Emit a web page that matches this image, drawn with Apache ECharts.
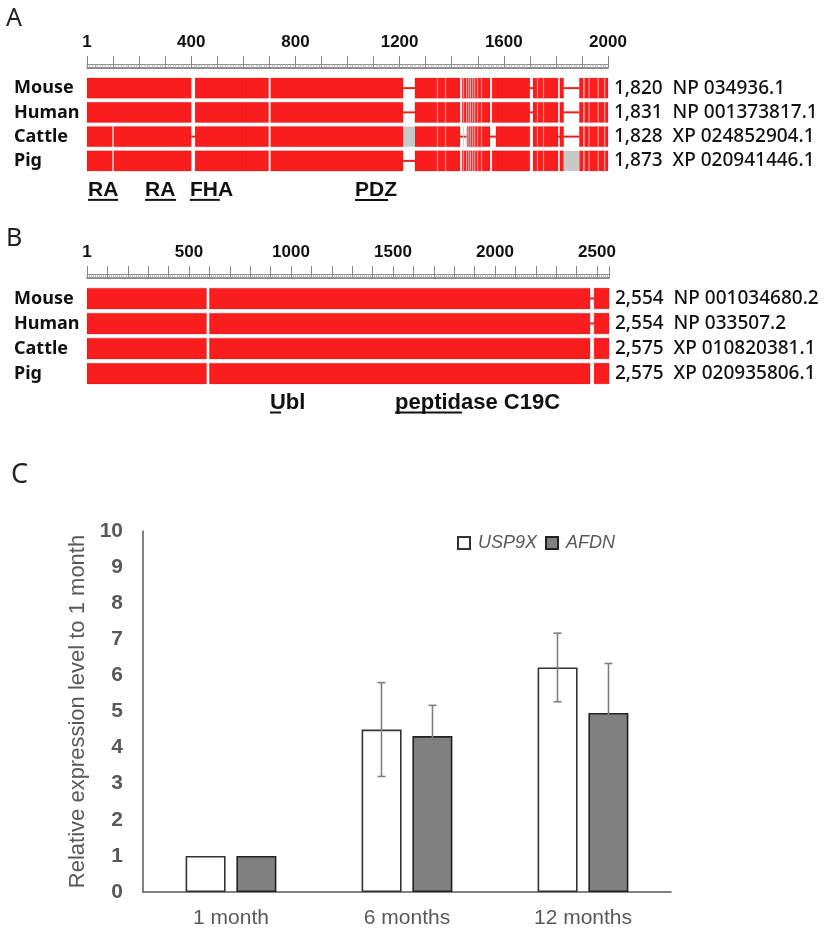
<!DOCTYPE html>
<html>
<head>
<meta charset="utf-8">
<script src="https://cdn.jsdelivr.net/npm/echarts@6/dist/echarts.min.js"></script>
<style>html,body{margin:0;padding:0;background:#fff}#c{width:827px;height:930px}</style>
</head>
<body>
<div id="c"></div>
<script>
// ---------- Panel A (afadin alignment) ----------
const speciesA = ['Mouse', 'Human', 'Cattle', 'Pig'];
const accessionA = ['1,820  NP 034936.1', '1,831  NP 001373817.1', '1,828  XP 024852904.1', '1,873  XP 020941446.1'];
const rulerLabelsA = [1, 400, 800, 1200, 1600, 2000];
const lengthA = 2000;
// red aligned blocks per species [start, end]
const blocksA = [
  [[0,400],[415,697],[705,1213],[1259,1432],[1440,1547],[1555,1700],[1712,1808],[1815,1830],[1890,1905],[1910,2000]],
  [[0,400],[415,697],[705,1213],[1259,1432],[1440,1547],[1555,1700],[1712,1808],[1815,1830],[1890,1905],[1910,2000]],
  [[0,97],[103,400],[415,697],[705,1213],[1259,1432],[1460,1547],[1570,1700],[1712,1808],[1815,1830],[1890,1905],[1910,2000]],
  [[0,97],[103,400],[415,697],[705,1213],[1259,1432],[1440,1547],[1555,1700],[1712,1808],[1815,1830],[1890,1905],[1910,2000]]
];
// gap connectors per species
const linksA = [
  [[1213,1259],[1700,1712],[1830,1890]],
  [[1213,1259],[1700,1712],[1830,1890]],
  [[400,415],[1432,1460],[1547,1570],[1808,1815],[1830,1890]],
  [[1213,1259]]
];
// grey (unaligned) blocks per species
const greyA = [[], [], [[1213,1259]], [[1830,1890]]];
// low-conservation columns (thin light lines), all species
const stripesA = [1343, 1374, 1443, 1455, 1463, 1470, 1478, 1486, 1497, 1512, 1727, 1750, 1925, 1960, 1985];
const faintA = [607, 1590];
// domains
const domainsA = ['RA', 'RA', 'FHA', 'PDZ'];
const domainStartA = [4, 223, 395, 1029];
const domainUlineEndA = [119, 342, 510, 1156];

// ---------- Panel B (USP9X alignment) ----------
const speciesB = ['Mouse', 'Human', 'Cattle', 'Pig'];
const accessionB = ['2,554  NP 001034680.2', '2,554  NP 033507.2', '2,575  XP 010820381.1', '2,575  XP 020935806.1'];
const rulerLabelsB = [1, 500, 1000, 1500, 2000, 2500];
const lengthB = 2559;
const blocksB = [
  [[0,586],[600,2466],[2486,2559]],
  [[0,586],[600,2466],[2486,2559]],
  [[0,586],[600,2466],[2486,2559]],
  [[0,586],[600,2466],[2486,2559]]
];
const linksB = [[[2466,2486]], [[2466,2486]], [], []];
const domainsB = ['Ubl', 'peptidase C19C'];
const domainStartB = [897, 1510];
const domainUlineEndB = [951, 1838];

// ---------- Panel C (qPCR) ----------
const months = ['1 month', '6 months', '12 months'];
const usp9x = [1, 4.5, 6.22];
const usp9xErr = [0, 1.3, 0.95];
const afdn = [1, 4.32, 4.96];
const afdnErr = [0, 0.85, 1.37];

// ---------- build ----------
const RED = '#fa1d1d', LINK = '#e32222', GREY = '#c8c8c8';
function alignData(blocks, links, grey, stripes, faint) {
  const d = [];
  blocks.forEach((row, r) => row.forEach(b => d.push([b[0], b[1], r, 0])));
  grey.forEach((row, r) => row.forEach(b => d.push([b[0], b[1], r, 1])));
  links.forEach((row, r) => row.forEach(b => d.push([b[0], b[1], r, 2])));
  blocks.forEach((row, r) => (stripes || []).forEach(p => d.push([p, p, r, 3])));
  blocks.forEach((row, r) => (faint || []).forEach(p => d.push([p, p, r, 4])));
  return d;
}
function alignItem(params, api) {
  const s = api.value(0), e = api.value(1), row = api.value(2), kind = api.value(3);
  const a = api.coord([s, row]), b = api.coord([e, row]);
  const band = api.size([0, 1])[1];
  const h = band * 0.83;
  if (kind === 0 || kind === 1) {
    return {type: 'rect', shape: {x: a[0], y: a[1] - h / 2, width: b[0] - a[0], height: h},
      style: {fill: kind === 0 ? RED : GREY, stroke: kind === 0 ? 'rgba(190,0,0,0.35)' : null, lineWidth: 0.6}};
  }
  if (kind === 2) {
    return {type: 'line', shape: {x1: a[0], y1: a[1], x2: b[0], y2: a[1]}, style: {stroke: LINK, lineWidth: 2}};
  }
  return {type: 'rect', shape: {x: a[0], y: a[1] - h / 2, width: 1.2, height: h},
    style: {fill: kind === 3 ? 'rgba(232,190,190,0.75)' : 'rgba(140,20,20,0.15)'}};
}
function domainData(starts, ends) { return starts.map((s, i) => [s, ends[i], 3, i]); }
function domainItem(names, dy, ul, fs) {
  return function (params, api) {
    const a = api.coord([api.value(0), api.value(2)]);
    const b = api.coord([api.value(1), api.value(2)]);
    return {type: 'group', children: [
      {type: 'text', style: {x: a[0], y: a[1] + dy, text: names[api.value(3)], fill: '#111',
        font: 'bold ' + fs + 'px "Liberation Sans", Arial, sans-serif', textAlign: 'left', textVerticalAlign: 'middle'}},
      {type: 'line', shape: {x1: a[0], y1: a[1] + ul, x2: b[0], y2: a[1] + ul}, style: {stroke: '#111', lineWidth: 2}}
    ]};
  };
}
function errData(vals, errs) { return vals.map((v, i) => [i, v, errs[i]]); }
function errItem(offset) {
  return function (params, api) {
    const e = api.value(2);
    if (!e) return null;
    const top = api.coord([api.value(0), api.value(1) + e]);
    const bot = api.coord([api.value(0), api.value(1) - e]);
    const x = top[0] + offset;
    const st = {stroke: '#808080', lineWidth: 1.6};
    return {type: 'group', children: [
      {type: 'line', shape: {x1: x, y1: top[1], x2: x, y2: bot[1]}, style: st},
      {type: 'line', shape: {x1: x - 4, y1: top[1], x2: x + 4, y2: top[1]}, style: st},
      {type: 'line', shape: {x1: x - 4, y1: bot[1], x2: x + 4, y2: bot[1]}, style: st}
    ]};
  };
}
function rulerAxes(gi, max, labels) {
  return [
    {gridIndex: gi, type: 'value', min: 0, max: max, interval: 100, position: 'top', offset: 8,
      axisLine: {show: true, lineStyle: {color: '#666', width: 1.5}},
      axisTick: {show: true, length: 12, lineStyle: {color: '#888', width: 1}},
      minorTick: {show: true, splitNumber: 10, length: 4, lineStyle: {color: '#aaa', width: 0.8}},
      splitLine: {show: false},
      axisLabel: {show: true, margin: 17, fontSize: 17, fontWeight: 'bold', color: '#111', fontFamily: '"Liberation Sans", Arial, sans-serif',
        formatter: v => { if (v === 0) return String(labels[0]); return labels.indexOf(v) >= 0 ? String(v) : ''; }}},
    {gridIndex: gi, type: 'value', min: 0, max: max, position: 'top', offset: 12,
      axisLine: {show: true, lineStyle: {color: '#888', width: 1}}, axisTick: {show: false},
      axisLabel: {show: false}, splitLine: {show: false}}
  ];
}
function speciesAxes(gi, names, acc) {
  const lab = {fontFamily: '"Noto Sans", sans-serif', color: '#111', interval: 0};
  return [
    {gridIndex: gi, type: 'category', data: names, inverse: true, axisLine: {show: false}, axisTick: {show: false},
      axisLabel: Object.assign({align: 'left', margin: 73, fontSize: 18, fontWeight: 'bold'}, lab)},
    {gridIndex: gi, type: 'category', data: acc, inverse: true, position: 'right', axisLine: {show: false}, axisTick: {show: false},
      axisLabel: Object.assign({align: 'left', margin: 6, fontSize: 19, fontWeight: 500, hideOverlap: false}, lab)}
  ];
}

const chart = echarts.init(document.getElementById('c'), null, {renderer: 'canvas'});
const gray = '#595959';
const xA = rulerAxes(0, lengthA, rulerLabelsA);
const xB = rulerAxes(1, lengthB, rulerLabelsB);
const option = {
  animation: false,
  backgroundColor: '#fff',
  title: [
    {text: 'A', left: 6, top: 6, padding: 0, textStyle: {fontSize: 25, fontWeight: 'normal', color: '#222', fontFamily: '"Noto Sans", sans-serif'}},
    {text: 'B', left: 6, top: 226, padding: 0, textStyle: {fontSize: 25, fontWeight: 'normal', color: '#222', fontFamily: '"Noto Sans", sans-serif'}},
    {text: 'C', left: 11, top: 462, padding: 0, textStyle: {fontSize: 27, fontWeight: 'normal', color: '#222', fontFamily: '"Noto Sans", sans-serif'}}
  ],
  legend: {
    data: ['USP9X', 'AFDN'], left: 457, top: 534, itemWidth: 12, itemHeight: 12, itemGap: 8, padding: 0,
    icon: 'rect',
    textStyle: {fontSize: 18, fontStyle: 'italic', color: gray, fontFamily: '"Liberation Sans", Arial, sans-serif', padding: [0, 0, 0, 3]}
  },
  grid: [
    {left: 87, top: 76, width: 521, height: 97},
    {left: 87, top: 286, width: 522, height: 100},
    {left: 143, top: 531, width: 528, height: 361}
  ],
  xAxis: [xA[0], xA[1], xB[0], xB[1],
    {gridIndex: 2, type: 'category', data: months,
      axisLine: {show: true, lineStyle: {color: gray, width: 1.5}}, axisTick: {show: false},
      axisLabel: {margin: 16, fontSize: 21, color: gray, interval: 0, fontFamily: '"Liberation Sans", Arial, sans-serif'}}
  ],
  yAxis: speciesAxes(0, speciesA, accessionA).concat(speciesAxes(1, speciesB, accessionB)).concat([
    {gridIndex: 2, type: 'value', min: 0, max: 10, interval: 1,
      name: 'Relative expression level to 1 month', nameLocation: 'middle', nameGap: 51, nameRotate: 90,
      nameTextStyle: {fontSize: 22, color: gray, fontFamily: '"Liberation Sans", Arial, sans-serif'},
      axisLine: {show: true, lineStyle: {color: gray, width: 1.5}}, axisTick: {show: false}, splitLine: {show: false},
      axisLabel: {margin: 20, fontSize: 21, fontWeight: 'bold', color: gray, fontFamily: '"Liberation Sans", Arial, sans-serif'}}
  ]),
  series: [
    {type: 'custom', name: 'alignA', xAxisIndex: 0, yAxisIndex: 0, renderItem: alignItem,
      encode: {x: [0, 1], y: 2}, data: alignData(blocksA, linksA, greyA, stripesA, faintA), silent: true, clip: false},
    {type: 'custom', name: 'domainsA', xAxisIndex: 0, yAxisIndex: 0, renderItem: domainItem(domainsA, 29, 39, 21),
      encode: {x: [0, 1], y: 2}, data: domainData(domainStartA, domainUlineEndA), silent: true, clip: false},
    {type: 'custom', name: 'alignB', xAxisIndex: 2, yAxisIndex: 2, renderItem: alignItem,
      encode: {x: [0, 1], y: 2}, data: alignData(blocksB, linksB, [[], [], [], []], [], []), silent: true, clip: false},
    {type: 'custom', name: 'domainsB', xAxisIndex: 2, yAxisIndex: 2, renderItem: domainItem(domainsB, 29, 39, 22),
      encode: {x: [0, 1], y: 2}, data: domainData(domainStartB, domainUlineEndB), silent: true, clip: false},
    {type: 'bar', name: 'USP9X', xAxisIndex: 4, yAxisIndex: 4, data: usp9x, barWidth: 40, barGap: '27%',
      itemStyle: {color: '#ffffff', borderColor: '#333', borderWidth: 1.6}},
    {type: 'bar', name: 'AFDN', xAxisIndex: 4, yAxisIndex: 4, data: afdn, barWidth: 40, barGap: '27%',
      itemStyle: {color: '#808080', borderColor: '#222', borderWidth: 1.6}},
    {type: 'custom', name: 'errU', xAxisIndex: 4, yAxisIndex: 4, renderItem: errItem(-25.5),
      encode: {x: 0, y: 1}, data: errData(usp9x, usp9xErr), silent: true, z: 5},
    {type: 'custom', name: 'errA', xAxisIndex: 4, yAxisIndex: 4, renderItem: errItem(25.5),
      encode: {x: 0, y: 1}, data: errData(afdn, afdnErr), silent: true, z: 5}
  ]
};
chart.setOption(option);
</script>
</body>
</html>
